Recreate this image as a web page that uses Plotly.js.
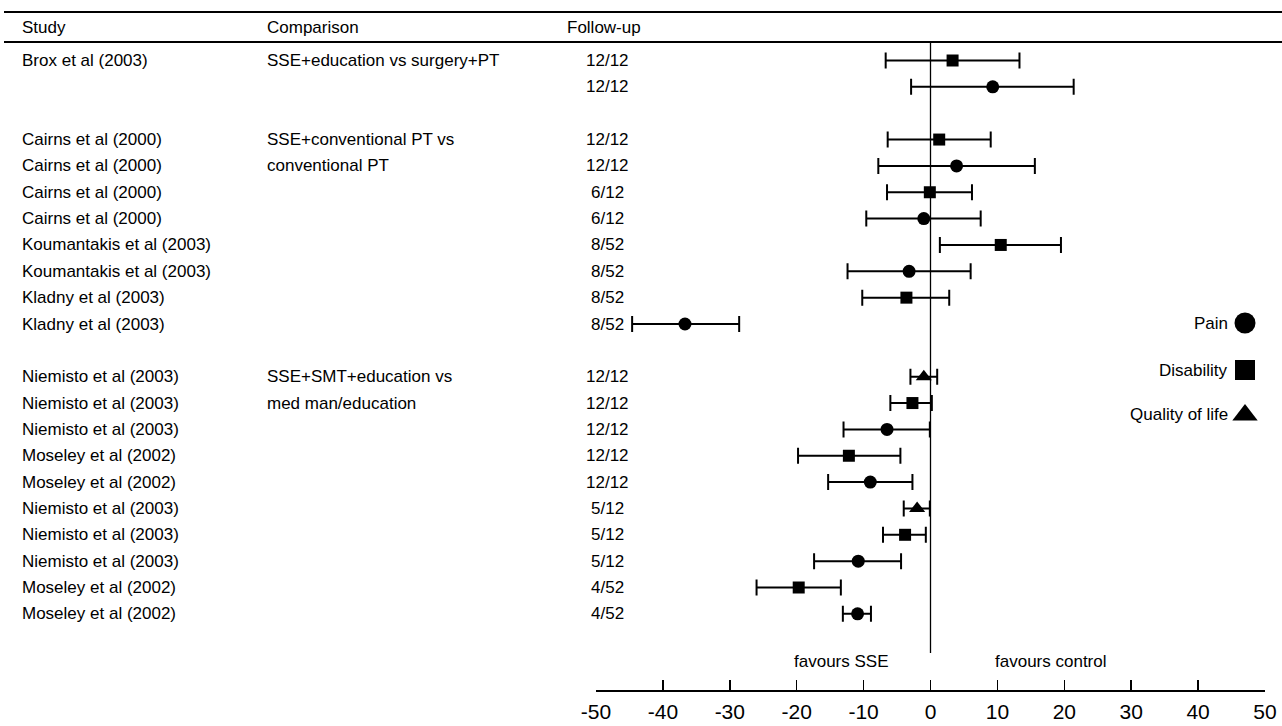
<!DOCTYPE html>
<html>
<head>
<meta charset="utf-8">
<script src="https://cdn.plot.ly/plotly-3.0.1.min.js"></script>
<style>html,body{margin:0;padding:0;background:#fff;}#chart{width:1282px;height:726px;}</style>
</head>
<body>
<div id="chart"></div>
<script>
// ---- data ----
const rowIndex = [0,1,3,4,5,6,7,8,9,10,12,13,14,15,16,17,18,19,20,21];
const studies = ["Brox et al (2003)","","Cairns et al (2000)","Cairns et al (2000)","Cairns et al (2000)","Cairns et al (2000)",
  "Koumantakis et al (2003)","Koumantakis et al (2003)","Kladny et al (2003)","Kladny et al (2003)",
  "Niemisto et al (2003)","Niemisto et al (2003)","Niemisto et al (2003)","Moseley et al (2002)","Moseley et al (2002)",
  "Niemisto et al (2003)","Niemisto et al (2003)","Niemisto et al (2003)","Moseley et al (2002)","Moseley et al (2002)"];
const followUp = ["12/12","12/12","12/12","12/12","6/12","6/12","8/52","8/52","8/52","8/52",
  "12/12","12/12","12/12","12/12","12/12","5/12","5/12","5/12","4/52","4/52"];
const outcome = ["Disability","Pain","Disability","Pain","Disability","Pain","Disability","Pain","Disability","Pain",
  "Quality of life","Disability","Pain","Disability","Pain","Quality of life","Disability","Pain","Disability","Pain"];
const estimate = [3.3, 9.3, 1.3, 3.9, -0.1, -1.0, 10.5, -3.2, -3.6, -36.7, -1.0, -2.7, -6.5, -12.2, -9.0, -2.0, -3.8, -10.8, -19.7, -10.9];
const lower    = [-6.7, -2.9, -6.4, -7.8, -6.5, -9.6, 1.4, -12.4, -10.2, -44.6, -3.0, -6.0, -13.0, -19.8, -15.3, -4.0, -7.1, -17.4, -26.0, -13.1];
const upper    = [13.3, 21.4, 9.0, 15.6, 6.2, 7.5, 19.5, 6.0, 2.8, -28.6, 1.0, 0.2, -0.1, -4.5, -2.7, -0.1, -0.7, -4.4, -13.4, -8.9];
const comparisonRows = [0, 3, 4, 12, 13];
const comparisonText = ["SSE+education vs surgery+PT", "SSE+conventional PT vs", "conventional PT", "SSE+SMT+education vs", "med man/education"];
const headers = ["Study", "Comparison", "Follow-up"];
const tickValues = [-50,-40,-30,-20,-10,0,10,20,30,40,50];
const outcomes = ["Pain", "Disability", "Quality of life"];
const symbols = {"Pain":"circle", "Disability":"square", "Quality of life":"triangle-up"};
const sizes = {"Pain":13, "Disability":12, "Quality of life":14};
const legendSizes = {"Pain":21, "Disability":20, "Quality of life":22};

// ---- layout geometry ----
const W = 1282, H = 726;
const px = v => v / W;           // paper x from pixel
const py = v => 1 - v / H;       // paper y from pixel
const row0 = 60.5, rowStep = 26.35;
const rowOf = p => (p - row0) / rowStep;
const FONT = "Liberation Sans, Arial, Helvetica, sans-serif";

const traces = outcomes.map(o => {
  const idx = outcome.map((v,i)=> v===o ? i : -1).filter(i=>i>=0);
  return {
    type: "scatter", mode: "markers", name: o,
    x: idx.map(i=>estimate[i]), y: idx.map(i=>rowIndex[i]),
    xaxis: "x", yaxis: "y",
    marker: {symbol: symbols[o], size: sizes[o], color: "#000", opacity: 1, line: {width: 0}},
    error_x: {type: "data", symmetric: false,
      array: idx.map(i=>upper[i]-estimate[i]),
      arrayminus: idx.map(i=>estimate[i]-lower[i]),
      color: "#000", thickness: 2, width: 8},
    cliponaxis: false, showlegend: false, hoverinfo: "x+y"
  };
});

// custom legend (text left of symbol) on pixel overlay axes
const legendY = [323, 370, 415];
traces.push({
  type: "scatter", mode: "markers", xaxis: "x2", yaxis: "y2",
  x: outcomes.map(()=>1245), y: legendY,
  marker: {symbol: outcomes.map(o=>symbols[o]), size: outcomes.map(o=>legendSizes[o]), color: "#000", opacity: 1, line: {width: 0}},
  showlegend: false, hoverinfo: "skip", cliponaxis: false
});

const annotations = [];
const txt = (text, x, y, xanchor, size, yref) => annotations.push({
  text, x, y, xref: "paper", yref: yref || "paper", xanchor, yanchor: "middle",
  showarrow: false, font: {family: FONT, size: size || 17, color: "#000"}
});
txt(headers[0], px(20), py(28), "left");
txt(headers[1], px(265), py(28), "left");
txt(headers[2], px(565), py(28), "left");
studies.forEach((s,i)=>{ if (s) txt(s, px(20), rowIndex[i], "left", 17, "y"); });
followUp.forEach((f,i)=> txt(f, px(607), rowIndex[i], "center", 17, "y"));
comparisonRows.forEach((r,i)=> txt(comparisonText[i], px(265), r, "left", 17, "y"));
outcomes.forEach((o,i)=> txt(o, px(1230), py(legendY[i]), "right"));
txt("favours SSE", px(841), py(661), "center");
txt("favours control", px(1051), py(661), "center");

const shapes = [
  {type:"line", xref:"paper", yref:"paper", x0:px(4), x1:1, y0:py(12), y1:py(12), line:{color:"#000", width:2}},
  {type:"line", xref:"paper", yref:"paper", x0:px(4), x1:1, y0:py(42), y1:py(42), line:{color:"#000", width:2}},
  {type:"line", xref:"x", yref:"y", x0:0, x1:0, y0:rowOf(42), y1:rowOf(653), line:{color:"#000", width:1.3}}
];

const layout = {
  width: W, height: H, margin: {l:0, r:0, t:0, b:0, pad:0},
  paper_bgcolor: "#fff", plot_bgcolor: "rgba(0,0,0,0)",
  showlegend: false, font: {family: FONT, color: "#000"},
  xaxis: {domain: [px(596), px(1265)], range: [-50, 50], tickmode: "array", tickvals: tickValues,
    ticktext: tickValues.map(String),
    ticks: "inside", ticklen: 10, tickwidth: 1.5, tickcolor: "#000",
    showline: true, linewidth: 2, linecolor: "#000", showgrid: false, zeroline: false,
    tickfont: {family: FONT, size: 21, color: "#000"}, ticklabelstandoff: 2, fixedrange: true},
  yaxis: {domain: [py(690), py(40)], range: [rowOf(690), rowOf(40)], visible: false,
    showgrid: false, zeroline: false, fixedrange: true},
  xaxis2: {domain: [0,1], range: [0, W], visible: false, anchor: "y2", fixedrange: true},
  yaxis2: {domain: [0,1], range: [H, 0], visible: false, anchor: "x2", fixedrange: true},
  annotations, shapes
};

Plotly.newPlot("chart", traces, layout, {displayModeBar: false, staticPlot: true});
</script>
</body>
</html>
